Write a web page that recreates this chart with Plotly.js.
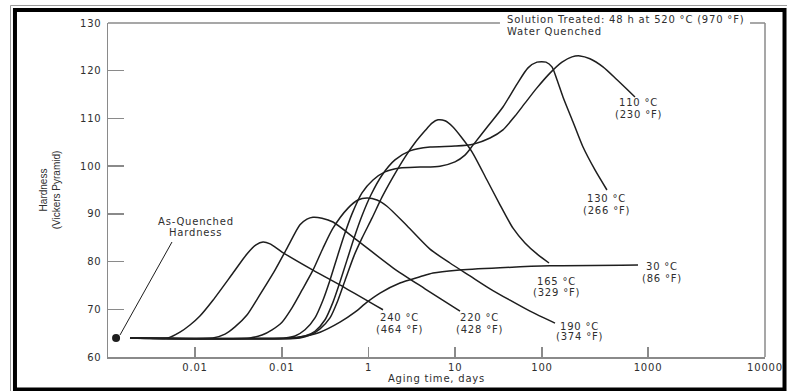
<!DOCTYPE html>
<html>
<head>
<meta charset="utf-8">
<script src="https://cdn.plot.ly/plotly-3.0.1.min.js"></script>
<style>
  html, body { margin: 0; padding: 0; background: #fff; }
  #chart { width: 787px; height: 391px; }
  svg text { letter-spacing: 0.8px; }
  svg text.ytitle { letter-spacing: 0px; }
</style>
</head>
<body>
<div id="chart"></div>
<script>
// ---- Data (aging time in days, hardness HV) ----
const asQuenchedTime = [0.00123];
const asQuenchedHV = [64.0];

const t240 = [0.00178, 0.00489, 0.00671, 0.00875, 0.0114, 0.0161, 0.0274, 0.0397, 0.0505, 0.0608, 0.0733, 0.1007, 0.229, 0.536, 1.469];
const hv240 = [64.0, 64.0, 65.2, 66.7, 68.6, 71.9, 77.6, 81.6, 83.5, 84.1, 83.7, 82.0, 78.2, 74.5, 69.9];

const t220 = [0.00178, 0.0161, 0.0222, 0.0289, 0.0397, 0.0532, 0.0836, 0.1151, 0.1622, 0.1954, 0.2291, 0.2911, 0.3899, 0.7362, 1.915, 4.477, 11.35];
const hv220 = [64.0, 64.0, 64.8, 66.3, 68.8, 72.4, 78.2, 82.8, 87.7, 88.9, 89.3, 89.1, 88.3, 84.5, 78.7, 74.3, 69.6];

const t190 = [0.00178, 0.0431, 0.0592, 0.0773, 0.1007, 0.1312, 0.1710, 0.2291, 0.2985, 0.3899, 0.5808, 0.7568, 0.9615, 1.253, 1.633, 2.780, 5.117, 8.690, 14.79, 25.18, 42.76, 72.78, 141.3];
const hv190 = [64.0, 64.0, 64.6, 65.7, 67.3, 70.3, 74.0, 78.2, 82.8, 87.0, 91.2, 92.9, 93.3, 92.9, 91.6, 87.5, 82.6, 79.7, 77.0, 74.3, 71.9, 69.6, 67.1];

const t165 = [0.00178, 0.1622, 0.2118, 0.2761, 0.3597, 0.4446, 0.5502, 0.6807, 0.8414, 1.097, 1.431, 1.915, 2.636, 3.436, 4.477, 5.395, 6.324, 7.621, 9.419, 11.97, 15.60, 23.22, 32.81, 46.35, 63.68, 87.50, 120.5];
const hv165 = [64.0, 64.0, 64.6, 65.9, 68.2, 71.9, 76.6, 81.2, 84.9, 89.1, 93.5, 97.7, 101.9, 104.9, 107.4, 109.0, 109.7, 109.5, 108.2, 105.9, 103.0, 97.1, 91.9, 87.0, 83.9, 81.6, 79.7];

const t130 = [0.00178, 0.1090, 0.1422, 0.1854, 0.2415, 0.2985, 0.3597, 0.4335, 0.5224, 0.6457, 0.8414, 1.127, 1.549, 2.307, 3.926, 6.668, 9.931, 12.94, 16.03, 23.86, 35.49, 51.52, 69.02, 87.50, 111.2, 130.3, 148.9, 174.6, 227.5, 297.2, 408.3, 561.0];
const hv130 = [64.0, 64.0, 64.4, 65.7, 68.2, 71.9, 76.1, 80.8, 85.4, 90.0, 94.4, 97.1, 98.8, 99.6, 99.8, 100.0, 100.9, 102.3, 104.4, 108.4, 112.4, 117.2, 120.6, 121.8, 121.8, 120.8, 118.1, 114.5, 109.3, 104.0, 99.2, 95.0];

const t110 = [0.00178, 0.1422, 0.1854, 0.2415, 0.3155, 0.3899, 0.4688, 0.5649, 0.6807, 0.8414, 1.069, 1.431, 2.019, 3.006, 5.117, 9.931, 16.03, 25.18, 35.49, 48.86, 63.68, 87.50, 123.6, 170.2, 221.8, 274.2, 357.3, 504.7, 732.8, 1180];
const hv110 = [64.0, 64.0, 64.4, 65.4, 67.8, 71.5, 75.7, 80.3, 84.9, 89.6, 94.0, 98.1, 101.3, 103.2, 104.0, 104.2, 104.6, 105.9, 107.6, 110.5, 113.2, 116.4, 119.5, 121.8, 122.9, 123.1, 122.5, 120.8, 118.1, 114.5];

const t30 = [0.00178, 0.1245, 0.1854, 0.2761, 0.4688, 0.6982, 0.9615, 1.358, 2.307, 3.926, 5.546, 10.47, 32.81, 123.6, 1279];
const hv30 = [64.0, 64.0, 64.4, 65.2, 67.3, 69.4, 71.5, 73.4, 75.5, 76.8, 77.6, 78.2, 78.7, 79.1, 79.3];

// Axis ticks as printed in the source figure (label text kept verbatim)
const xTickLabels = ["0.01", "0.01", "1", "10", "100", "1000", "10000"];
const xTickDays = [0.01, 0.1, 1, 10, 100, 1667, 37240];   // where the source figure draws each tick
const yTickVals = [60, 70, 80, 90, 100, 110, 120, 130];

// Curve labels (two text lines each)
const curveLabelText = [
  ["240 °C", "(464 °F)"],
  ["220 °C", "(428 °F)"],
  ["190 °C", "(374 °F)"],
  ["165 °C", "(329 °F)"],
  ["30 °C", "(86 °F)"],
  ["130 °C", "(266 °F)"],
  ["110 °C", "(230 °F)"]
];
// label placement (paper coordinates): x centre, y of first line, y of second line
const curveLabelPos = [
  [0.4444, 0.1168, 0.0838],
  [0.5647, 0.1168, 0.0838],
  [0.7169, 0.0928, 0.0599],
  [0.6834, 0.2275, 0.1946],
  [0.8432, 0.2695, 0.2365],
  [0.7595, 0.4731, 0.4401],
  [0.8067, 0.7605, 0.7246]
];

const INK = '#1e1e1e';
const AXIS = '#8a8a8a';
const TXT = '#2e2e2e';
const FONT = 'DejaVu Sans, Liberation Sans, Arial, sans-serif';

function curve(name, x, y) {
  return {
    type: 'scatter', mode: 'lines', name: name, x: x, y: y,
    line: {color: INK, width: 1.5, shape: 'spline', smoothing: 0.7},
    hoverinfo: 'x+y+name', showlegend: false
  };
}

const traces = [
  curve('240 °C', t240, hv240),
  curve('220 °C', t220, hv220),
  curve('190 °C', t190, hv190),
  curve('165 °C', t165, hv165),
  curve('130 °C', t130, hv130),
  curve('110 °C', t110, hv110),
  curve('30 °C', t30, hv30),
  {
    type: 'scatter', mode: 'markers', name: 'As-Quenched Hardness',
    x: asQuenchedTime, y: asQuenchedHV,
    marker: {color: INK, size: 8, symbol: 'circle'}, showlegend: false
  }
];

function note(text, x, y, xanchor) {
  return {
    text: text, x: x, y: y, xref: 'paper', yref: 'paper',
    xanchor: xanchor || 'center', yanchor: 'middle', showarrow: false,
    font: {family: FONT, size: 10, color: TXT}
  };
}

const annotations = [];
curveLabelText.forEach((lines, i) => {
  const p = curveLabelPos[i];
  annotations.push(note(lines[0], p[0], p[1]));
  annotations.push(note(lines[1], p[0], p[2]));
});
annotations.push(note('As-Quenched', 0.1339, 0.4042));
annotations.push(note('Hardness', 0.1339, 0.3713));
annotations.push(note('Solution Treated: 48 h at 520 °C (970 °F)', 0.6043, 1.0090, 'left'));
annotations.push(note('Water Quenched', 0.6043, 0.9760, 'left'));

const shapes = [
  // outer frame
  {type: 'rect', xref: 'paper', yref: 'paper', x0: -0.1484, x1: 1.036, y0: -0.11, y1: 1.0524,
   line: {color: '#9a9a9a', width: 1}},
  {type: 'rect', xref: 'paper', yref: 'paper', x0: -0.1416, x1: 1.0297, y0: -0.0973, y1: 1.0389,
   line: {color: '#000', width: 4}},
  // plot box: top (interrupted by the note) and right side
  {type: 'line', xref: 'paper', yref: 'paper', x0: 0, x1: 0.5966, y0: 1, y1: 1, line: {color: AXIS, width: 1.5}},
  {type: 'line', xref: 'paper', yref: 'paper', x0: 0.9772, x1: 1, y0: 1, y1: 1, line: {color: AXIS, width: 1.5}},
  {type: 'line', xref: 'paper', yref: 'paper', x0: 1, x1: 1, y0: 0, y1: 1, line: {color: AXIS, width: 1.5}},
  // leader from the as-quenched note to the dot
  {type: 'line', xref: 'paper', yref: 'paper', x0: 0.0183, y0: 0.0659, x1: 0.0974, y1: 0.3443,
   line: {color: INK, width: 1}}
];

const layout = {
  width: 787, height: 391,
  margin: {l: 108, r: 22, t: 23, b: 34, pad: 0},
  paper_bgcolor: '#fff', plot_bgcolor: '#fff',
  font: {family: FONT, size: 10, color: TXT},
  showlegend: false,
  xaxis: {
    type: 'log', range: [-3.003, 4.571],
    tickmode: 'array', tickvals: xTickDays, ticktext: xTickLabels,
    ticks: 'inside', ticklen: 10, tickwidth: 1.5, tickcolor: AXIS,
    showline: true, linecolor: AXIS, linewidth: 1.5,
    showgrid: false, zeroline: false,
    tickfont: {family: FONT, size: 10, color: TXT},
    title: {text: 'Aging time, days', font: {family: FONT, size: 10, color: TXT}, standoff: 3}
  },
  yaxis: {
    range: [60, 130],
    tickmode: 'array', tickvals: yTickVals,
    ticks: 'inside', ticklen: 16, tickwidth: 1.5, tickcolor: AXIS,
    ticklabelstandoff: 3,
    showline: true, linecolor: AXIS, linewidth: 1.5,
    showgrid: false, zeroline: false,
    tickfont: {family: FONT, size: 10, color: TXT},
    title: {text: 'Hardness<br>(Vickers Pyramid)',
            font: {family: 'Liberation Sans Narrow, Arial Narrow, Liberation Sans, sans-serif', size: 10, color: TXT},
            standoff: 17}
  },
  annotations: annotations,
  shapes: shapes
};

Plotly.newPlot('chart', traces, layout, {displayModeBar: false, staticPlot: true});
</script>
</body>
</html>
